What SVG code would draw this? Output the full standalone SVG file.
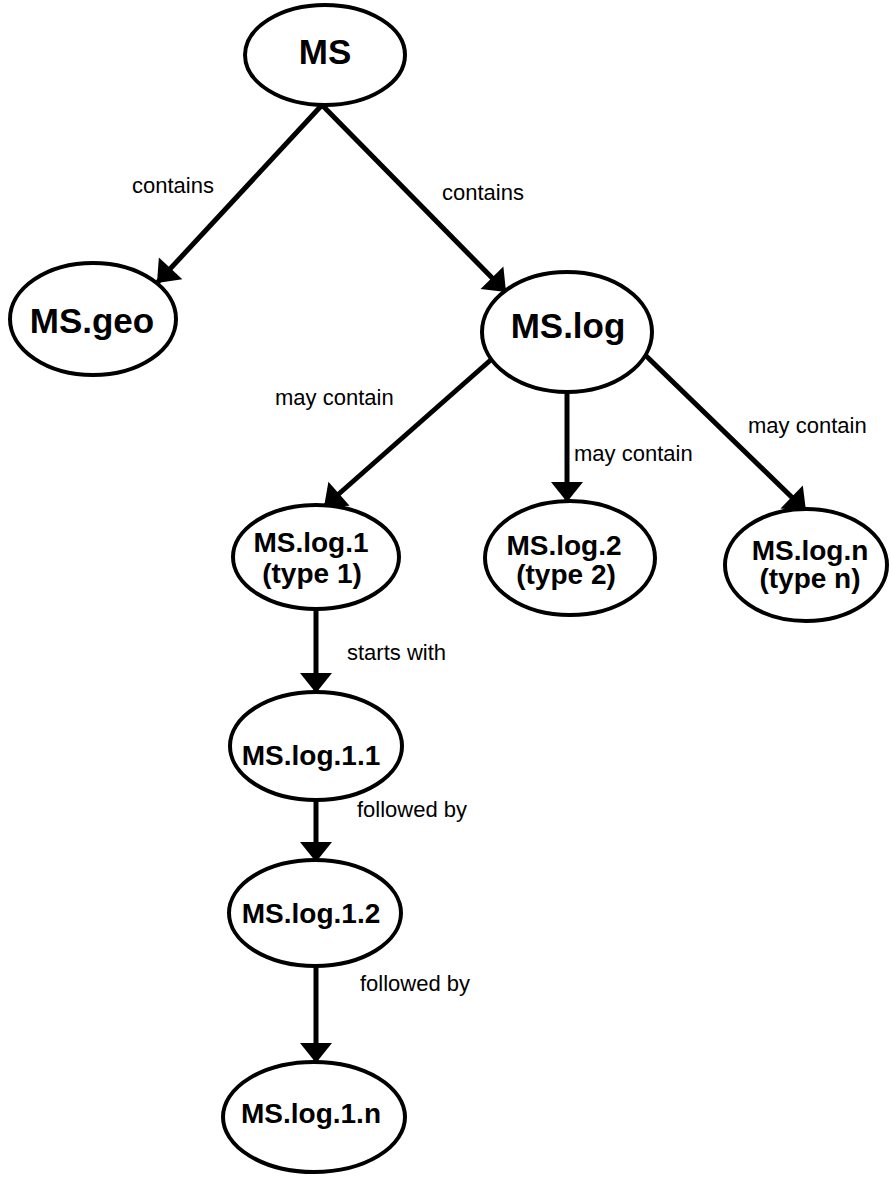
<svg xmlns="http://www.w3.org/2000/svg" width="892" height="1177" viewBox="0 0 892 1177">
<style>
.node ellipse{fill:#fff;stroke:#000;stroke-width:4}
.nt{font-family:"Liberation Sans",Arial,sans-serif;font-weight:bold;fill:#000;text-anchor:middle}
.big{font-size:35px}
.mid{font-size:28px}
.el{font-family:"Liberation Sans",Arial,sans-serif;font-size:22px;fill:#000}
.edges line{stroke:#000;stroke-width:5;marker-end:url(#ah)}
</style>
<defs>
<marker id="ah" markerUnits="userSpaceOnUse" markerWidth="40" markerHeight="40" viewBox="-2 -20 24 40" refX="20" refY="0" orient="auto">
<path d="M0,-16 L20,0 L0,16 Z" fill="#000"/>
</marker>
</defs>
<rect width="892" height="1177" fill="#fff"/>
<g class="edges">
<line x1="322" y1="105" x2="157" y2="283"/>
<line x1="322" y1="105" x2="506" y2="292"/>
<line x1="502" y1="350" x2="324" y2="507"/>
<line x1="567" y1="390" x2="567" y2="502"/>
<line x1="640" y1="350" x2="806" y2="511"/>
<line x1="316" y1="607" x2="316" y2="693"/>
<line x1="316" y1="798" x2="316" y2="862"/>
<line x1="316" y1="966" x2="316" y2="1063"/>
</g>
<g id="labels">
<text class="el" x="132" y="193">contains</text>
<text class="el" x="442" y="200">contains</text>
<text class="el" x="275" y="405">may contain</text>
<text class="el" x="574" y="461">may contain</text>
<text class="el" x="748" y="433">may contain</text>
<text class="el" x="347" y="660">starts with</text>
<text class="el" x="357" y="817">followed by</text>
<text class="el" x="360" y="991">followed by</text>
</g>
<g id="n_ms" class="node"><ellipse cx="325" cy="55" rx="80" ry="50"/><text class="nt big" x="325" y="64">MS</text></g>
<g id="n_geo" class="node"><ellipse cx="93" cy="319" rx="83" ry="56"/><text class="nt big" x="92" y="333">MS.geo</text></g>
<g id="n_log" class="node"><ellipse cx="567" cy="332" rx="85" ry="60"/><text class="nt big" x="568" y="338">MS.log</text></g>
<g id="n_log1" class="node"><ellipse cx="316" cy="557" rx="83" ry="52"/><text class="nt mid" x="311" y="552">MS.log.1</text><text class="nt mid" x="312" y="583">(type 1)</text></g>
<g id="n_log2" class="node"><ellipse cx="570" cy="558" rx="85" ry="57"/><text class="nt mid" x="564" y="555">MS.log.2</text><text class="nt mid" x="566" y="584">(type 2)</text></g>
<g id="n_logn" class="node"><ellipse cx="806" cy="565" rx="81" ry="56"/><text class="nt mid" x="810" y="560">MS.log.n</text><text class="nt mid" x="810" y="588">(type n)</text></g>
<g id="n_log11" class="node"><ellipse cx="316" cy="746" rx="86" ry="54"/><text class="nt mid" x="311" y="765">MS.log.1.1</text></g>
<g id="n_log12" class="node"><ellipse cx="315" cy="913" rx="86" ry="53"/><text class="nt mid" x="311" y="923">MS.log.1.2</text></g>
<g id="n_log1n" class="node"><ellipse cx="314" cy="1117" rx="91" ry="55"/><text class="nt mid" x="311" y="1123">MS.log.1.n</text></g>
</svg>
